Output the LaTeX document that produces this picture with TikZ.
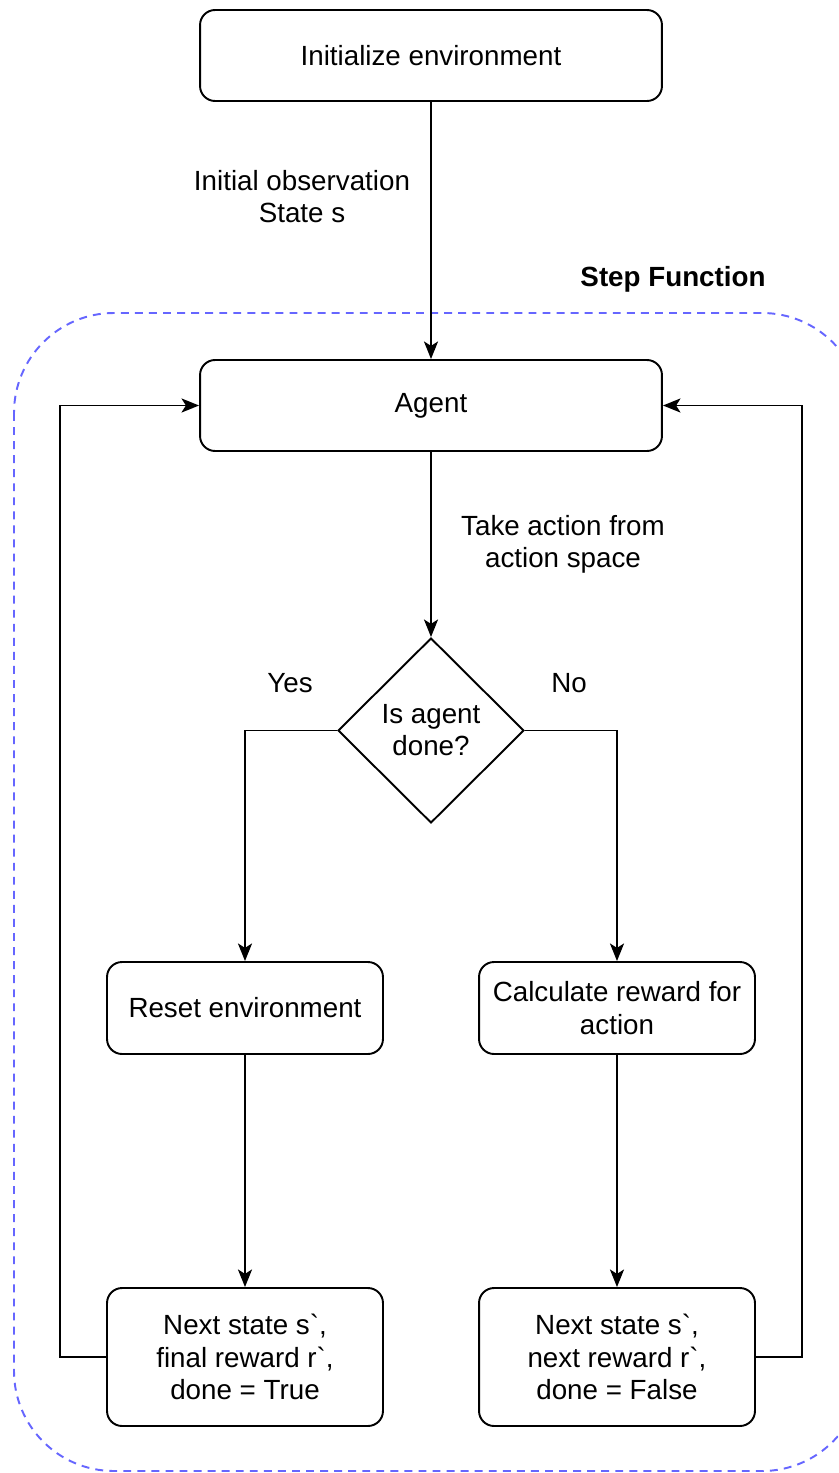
\documentclass[tikz,border=0pt]{standalone}
\usepackage{fontspec}
\setmainfont{Liberation Sans}
\usetikzlibrary{arrows.meta,shapes.geometric}
\newcommand\myfs{\fontsize{15.8}{18.3}\selectfont}
\newcommand\bq{\textasciigrave}
\begin{document}
\begin{tikzpicture}[x=0.02cm,y=-0.02cm,
  box/.style={draw, line width=1.1pt, rounded corners=0.3cm, align=center, font=\myfs, inner sep=2pt},
  wide/.style={box, minimum width=9.24cm, minimum height=1.82cm},
  small/.style={box, minimum width=5.52cm, minimum height=1.84cm},
  tall/.style={box, minimum width=5.52cm, minimum height=2.76cm},
  dec/.style={draw, line width=1.1pt, diamond, aspect=1, inner sep=0pt, minimum width=3.72cm, minimum height=3.7cm, align=center, font=\myfs},
  lbl/.style={align=center, font=\myfs, inner sep=0pt},
  arr/.style={line width=1.1pt, -{Stealth[length=10pt,width=8pt,inset=2.5pt]}},
  frame/.style={draw={rgb,255:red,102;green,102;blue,255}, line width=1.1pt, dash pattern=on 4.5pt off 3.5pt, rounded corners=2cm}]
\useasboundingbox (0,0) rectangle (838,1473);
\begin{scope}
  \clip (0,0) rectangle (838,1473);
  \path[frame] (14,313) rectangle (862,1471);
\end{scope}
\node[wide] (init) at (431,55.5) {Initialize environment};
\node[wide] (agent) at (431,405.5) {Agent};
\node[dec] (dia) at (431,730.5) {Is agent\\done?};
\node[small] (reset) at (245,1008) {Reset environment};
\node[small] (calc) at (617,1008) {Calculate reward for\\action};
\node[tall] (nextL) at (245,1357) {Next state s\bq,\\final reward r\bq,\\done = True};
\node[tall] (nextR) at (617,1357) {Next state s\bq,\\next reward r\bq,\\done = False};
\node[lbl] (l1) at (302,197) {Initial observation\\State s};
\node[lbl] (l2) at (563,544) {Take action from\\action space};
\node[lbl] (yes) at (290,683) {Yes};
\node[lbl] (no) at (569,683) {No};
\node[lbl, font=\myfs\bfseries] (sf) at (673,279) {Step Function};
\draw[arr] (init) -- (agent);
\draw[arr] (agent) -- (dia);
\draw[arr] (dia.west) -| (reset.north);
\draw[arr] (dia.east) -| (calc.north);
\draw[arr] (reset) -- (nextL);
\draw[arr] (calc) -- (nextR);
\draw[arr] (nextL.west) -- ++(-46,0) |- (agent.west);
\draw[arr] (nextR.east) -- ++(46,0) |- (agent.east);
\end{tikzpicture}
\end{document}
